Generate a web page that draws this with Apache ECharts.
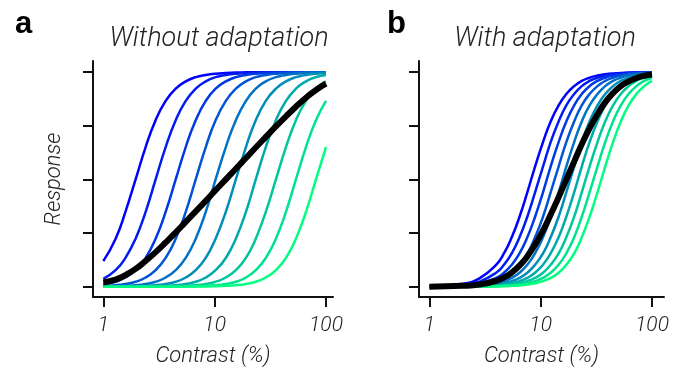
<!DOCTYPE html>
<html>
<head>
<meta charset="utf-8">
<script src="https://cdn.jsdelivr.net/npm/echarts@6/dist/echarts.min.js"></script>
<style>
  html, body {margin: 0; padding: 0; background: #fff;}
  #chart {width: 676px; height: 372px;}
</style>
</head>
<body>
<div id="chart"></div>
<script>
// contrast (%) sampled along each panel
const contrastA = [1, 1.29, 1.58, 1.95, 2.4, 2.95, 3.63, 4.47, 5.5, 6.76, 8.32, 10.2, 12.6, 15.5, 19.1, 23.4, 28.8, 35.5, 43.7, 53.7, 66.1, 81.3, 100];
const contrastB = [1, 2, 2.82, 3.98, 4.68, 5.5, 6.46, 7.59, 8.91, 10.5, 12.3, 14.5, 17, 20, 23.4, 27.5, 32.4, 38, 44.7, 52.5, 61.7, 72.4, 85.1, 100];

// a: without adaptation
const noAdapt0 = [0.119, 0.224, 0.349, 0.5, 0.651, 0.776, 0.866, 0.923, 0.957, 0.977, 0.987, 0.993, 0.996, 0.998, 0.999, 1, 1, 1, 1, 1, 1, 1, 1];
const noAdapt1 = [0.037, 0.077, 0.134, 0.224, 0.349, 0.5, 0.651, 0.776, 0.866, 0.923, 0.957, 0.977, 0.987, 0.993, 0.996, 0.998, 0.999, 1, 1, 1, 1, 1, 1];
const noAdapt2 = [0.011, 0.023, 0.043, 0.077, 0.134, 0.224, 0.349, 0.5, 0.651, 0.776, 0.866, 0.923, 0.957, 0.977, 0.987, 0.993, 0.996, 0.998, 0.999, 1, 1, 1, 1];
const noAdapt3 = [0.003, 0.007, 0.013, 0.023, 0.043, 0.077, 0.134, 0.224, 0.349, 0.5, 0.651, 0.776, 0.866, 0.923, 0.957, 0.977, 0.987, 0.993, 0.996, 0.998, 0.999, 1, 1];
const noAdapt4 = [0.001, 0.002, 0.004, 0.007, 0.013, 0.023, 0.043, 0.077, 0.134, 0.224, 0.349, 0.5, 0.651, 0.776, 0.866, 0.923, 0.957, 0.977, 0.987, 0.993, 0.996, 0.998, 0.999];
const noAdapt5 = [0, 0.001, 0.001, 0.002, 0.004, 0.007, 0.013, 0.023, 0.043, 0.077, 0.134, 0.224, 0.349, 0.5, 0.651, 0.776, 0.866, 0.923, 0.957, 0.977, 0.987, 0.993, 0.996];
const noAdapt6 = [0, 0, 0, 0.001, 0.001, 0.002, 0.004, 0.007, 0.013, 0.023, 0.043, 0.077, 0.134, 0.224, 0.349, 0.5, 0.651, 0.776, 0.866, 0.923, 0.957, 0.977, 0.987];
const noAdapt7 = [0, 0, 0, 0, 0, 0.001, 0.001, 0.002, 0.004, 0.007, 0.013, 0.023, 0.043, 0.077, 0.134, 0.224, 0.349, 0.5, 0.651, 0.776, 0.866, 0.923, 0.957];
const noAdapt8 = [0, 0, 0, 0, 0, 0, 0, 0.001, 0.001, 0.002, 0.004, 0.007, 0.013, 0.023, 0.043, 0.077, 0.134, 0.224, 0.349, 0.5, 0.651, 0.776, 0.866];
const noAdapt9 = [0, 0, 0, 0, 0, 0, 0, 0, 0, 0.001, 0.001, 0.002, 0.004, 0.007, 0.013, 0.023, 0.043, 0.077, 0.134, 0.224, 0.349, 0.5, 0.651];
const noAdaptMean = [0.02, 0.033, 0.054, 0.083, 0.12, 0.161, 0.206, 0.253, 0.302, 0.351, 0.4, 0.45, 0.5, 0.55, 0.6, 0.649, 0.698, 0.747, 0.794, 0.839, 0.881, 0.917, 0.946];

// b: with adaptation
const adapt0 = [0.002, 0.014, 0.039, 0.102, 0.155, 0.23, 0.326, 0.44, 0.56, 0.674, 0.77, 0.845, 0.898, 0.935, 0.959, 0.974, 0.984, 0.99, 0.994, 0.996, 0.998, 0.998, 0.999, 0.999];
const adapt1 = [0.001, 0.009, 0.024, 0.065, 0.102, 0.155, 0.23, 0.326, 0.44, 0.56, 0.674, 0.77, 0.845, 0.898, 0.935, 0.959, 0.974, 0.984, 0.99, 0.994, 0.996, 0.998, 0.998, 0.999];
const adapt2 = [0.001, 0.005, 0.015, 0.041, 0.065, 0.102, 0.155, 0.23, 0.326, 0.44, 0.56, 0.674, 0.77, 0.845, 0.898, 0.935, 0.959, 0.974, 0.984, 0.99, 0.994, 0.996, 0.998, 0.998];
const adapt3 = [0, 0.003, 0.009, 0.026, 0.041, 0.065, 0.102, 0.155, 0.23, 0.326, 0.44, 0.56, 0.674, 0.77, 0.845, 0.898, 0.935, 0.959, 0.974, 0.984, 0.99, 0.994, 0.996, 0.998];
const adapt4 = [0, 0.002, 0.006, 0.016, 0.026, 0.041, 0.065, 0.102, 0.155, 0.23, 0.326, 0.44, 0.56, 0.674, 0.77, 0.845, 0.898, 0.935, 0.959, 0.974, 0.984, 0.99, 0.994, 0.996];
const adapt5 = [0, 0.001, 0.004, 0.01, 0.016, 0.026, 0.041, 0.065, 0.102, 0.155, 0.23, 0.326, 0.44, 0.56, 0.674, 0.77, 0.845, 0.898, 0.935, 0.959, 0.974, 0.984, 0.99, 0.994];
const adapt6 = [0, 0.001, 0.002, 0.006, 0.01, 0.016, 0.026, 0.041, 0.065, 0.102, 0.155, 0.23, 0.326, 0.44, 0.56, 0.674, 0.77, 0.845, 0.898, 0.935, 0.959, 0.974, 0.984, 0.99];
const adapt7 = [0, 0, 0.001, 0.004, 0.006, 0.01, 0.016, 0.026, 0.041, 0.065, 0.102, 0.155, 0.23, 0.326, 0.44, 0.56, 0.674, 0.77, 0.845, 0.898, 0.935, 0.959, 0.974, 0.984];
const adapt8 = [0, 0, 0.001, 0.002, 0.004, 0.006, 0.01, 0.016, 0.026, 0.041, 0.065, 0.102, 0.155, 0.23, 0.326, 0.44, 0.56, 0.674, 0.77, 0.845, 0.898, 0.935, 0.959, 0.974];
const adapt9 = [0, 0, 0.001, 0.001, 0.002, 0.004, 0.006, 0.01, 0.016, 0.026, 0.041, 0.065, 0.102, 0.155, 0.23, 0.326, 0.44, 0.56, 0.674, 0.77, 0.845, 0.898, 0.935, 0.959];
const adaptMean = [0, 0.004, 0.01, 0.027, 0.043, 0.066, 0.098, 0.141, 0.196, 0.262, 0.336, 0.417, 0.5, 0.583, 0.664, 0.738, 0.804, 0.859, 0.902, 0.935, 0.957, 0.973, 0.983, 0.989];

const curveColors = ['#0000ff', '#001cf1', '#0039e3', '#0055d5', '#0071c6', '#008eb8', '#00aaaa', '#00c69c', '#00e38e', '#00ff80'];
const xTicks = [1, 10, 100];
const yTicks = [0, 0.25, 0.5, 0.75, 1];

const noAdapt = [noAdapt0, noAdapt1, noAdapt2, noAdapt3, noAdapt4, noAdapt5, noAdapt6, noAdapt7, noAdapt8, noAdapt9];
const adapt = [adapt0, adapt1, adapt2, adapt3, adapt4, adapt5, adapt6, adapt7, adapt8, adapt9];

const font = 'Roboto, "Helvetica Neue", Arial, sans-serif';
const axisColor = '#111';
const textColor = '#222';

const pair = (xs, ys) => xs.map((x, i) => [x, ys[i]]);

const xAxisFor = (gridIndex, max) => ({
  type: 'log',
  logBase: 10,
  gridIndex,
  min: 0.808,
  max,
  name: 'Contrast (%)',
  nameLocation: 'middle',
  nameGap: 48,
  nameTextStyle: {fontFamily: font, fontStyle: 'italic', fontWeight: 300, fontSize: 22, color: textColor},
  axisLine: {onZero: false, lineStyle: {color: axisColor, width: 2}},
  axisTick: {length: 10, lineStyle: {color: axisColor, width: 2}, customValues: xTicks},
  axisLabel: {
    customValues: xTicks,
    margin: 18,
    fontFamily: font, fontStyle: 'italic', fontWeight: 300, fontSize: 21, color: textColor
  },
  splitLine: {show: false},
  minorTick: {show: false}
});

const yAxisFor = (gridIndex, withName) => ({
  type: 'value',
  gridIndex,
  min: -0.048,
  max: 1.052,
  name: withName ? 'Response' : '',
  nameLocation: 'middle',
  nameRotate: 90,
  nameGap: 28,
  nameTextStyle: {fontFamily: font, fontStyle: 'italic', fontWeight: 300, fontSize: 22, color: textColor},
  axisLine: {show: true, onZero: false, lineStyle: {color: axisColor, width: 2}},
  axisTick: {show: true, length: 10, lineStyle: {color: axisColor, width: 2}, customValues: yTicks},
  axisLabel: {show: false},
  splitLine: {show: false}
});

const series = [];
noAdapt.forEach((ys, k) => {
  series.push({
    type: 'line', xAxisIndex: 0, yAxisIndex: 0,
    data: pair(contrastA, ys),
    smooth: true, symbol: 'none',
    lineStyle: {color: curveColors[k], width: 2.5},
    z: 2
  });
});
series.push({
  type: 'line', xAxisIndex: 0, yAxisIndex: 0,
  data: pair(contrastA, noAdaptMean),
  smooth: true, symbol: 'none',
  lineStyle: {color: '#000', width: 6},
  z: 3
});
adapt.forEach((ys, k) => {
  series.push({
    type: 'line', xAxisIndex: 1, yAxisIndex: 1,
    data: pair(contrastB, ys),
    smooth: true, symbol: 'none',
    lineStyle: {color: curveColors[k], width: 2.5},
    z: 2
  });
});
series.push({
  type: 'line', xAxisIndex: 1, yAxisIndex: 1,
  data: pair(contrastB, adaptMean),
  smooth: true, symbol: 'none',
  lineStyle: {color: '#000', width: 6},
  z: 3
});

const chart = echarts.init(document.getElementById('chart'), null, {renderer: 'canvas'});
chart.setOption({
  animation: false,
  backgroundColor: '#fff',
  title: [
    {text: 'a', left: 10, top: 4, textStyle: {fontFamily: 'Arial, "Liberation Sans", sans-serif', fontWeight: 'bold', fontSize: 31, color: '#000'}},
    {text: 'b', left: 382, top: 4, textStyle: {fontFamily: 'Arial, "Liberation Sans", sans-serif', fontWeight: 'bold', fontSize: 31, color: '#000'}},
    {text: 'Without adaptation', left: 214, top: 21, textAlign: 'center', textStyle: {fontFamily: font, fontStyle: 'italic', fontWeight: 300, fontSize: 27, color: textColor}},
    {text: 'With adaptation', left: 540, top: 21, textAlign: 'center', textStyle: {fontFamily: font, fontStyle: 'italic', fontWeight: 300, fontSize: 27, color: textColor}}
  ],
  grid: [
    {left: 93, top: 61, width: 240, height: 238},
    {left: 419, top: 61, width: 245, height: 238}
  ],
  xAxis: [xAxisFor(0, 115.6), xAxisFor(1, 128.2)],
  yAxis: [yAxisFor(0, true), yAxisFor(1, false)],
  series
});
</script>
</body>
</html>
